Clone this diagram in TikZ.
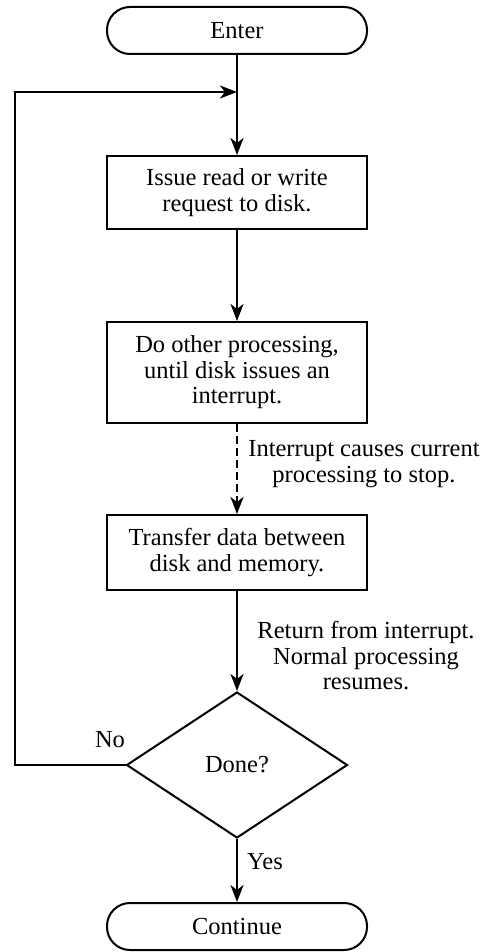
\documentclass[tikz,border=0pt]{standalone}
\usepackage{fontspec}
\setmainfont{Liberation Serif}
\usetikzlibrary{arrows.meta,shapes.geometric}
\begin{document}
\begin{tikzpicture}[x=1pt,y=-1pt,
  every node/.style={font=\fontsize{24.5}{25.5}\selectfont, align=center},
  term/.style={draw, line width=2pt, rounded corners=23pt, minimum width=260pt, minimum height=47pt, inner sep=0pt},
  proc/.style={draw, line width=2pt, minimum width=260pt, inner sep=0pt},
  dec/.style={draw, diamond, line width=2pt, minimum width=221pt, minimum height=146pt, aspect=1.51, inner sep=0pt},
  conn/.style={line width=2.6pt, -{Stealth[length=17pt,width=13pt,inset=5pt]}},
  lbl/.style={inner sep=0pt}]
\useasboundingbox (0,0) rectangle (485,952);
\node[term] (enter) at (237,30.5) {Enter};
\node[proc, minimum height=73pt] (b1) at (237,192.5) {Issue read or write\\request to disk.};
\node[proc, minimum height=101pt] (b2) at (237,372.5) {Do other processing,\\until disk issues an\\interrupt.};
\node[proc, minimum height=75pt] (b3) at (237,552.5) {Transfer data between\\disk and memory.};
\node[dec] (d) at (237,765) {\raisebox{-5pt}{Done?}};
\node[term] (cont) at (237,926.5) {Continue};
\coordinate (j) at (237,92);
\coordinate (lc) at (15,92);
\node[lbl] (l1) at (364,464) {Interrupt causes current\\processing to stop.};
\node[lbl] (l2) at (366,656) {Return from interrupt.\\Normal processing\\resumes.};
\node[lbl] (no) at (110,740) {No};
\node[lbl] (yes) at (265,862) {Yes};
\draw[conn] (enter.south) -- (b1.north);
\draw[conn] (b1.south) -- (b2.north);
\draw[conn, dash pattern=on 8pt off 4pt] (b2.south) -- (b3.north);
\draw[conn] (b3.south) -- (d.north);
\draw[conn] (d.south) -- (cont.north);
\draw[conn] (d.west) -| (lc) -- (j);
\end{tikzpicture}
\end{document}
